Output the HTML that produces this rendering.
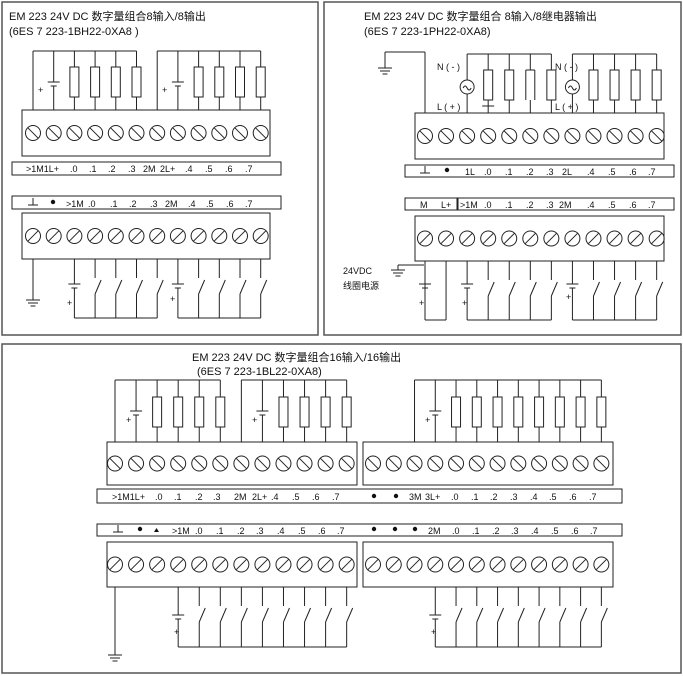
<!DOCTYPE html>
<html><head><meta charset="utf-8"><style>
html,body{margin:0;padding:0;background:#fff;width:683px;height:676px;overflow:hidden}
svg{display:block}
text{font-family:"Liberation Sans","Noto Sans CJK SC",sans-serif;fill:#111}
.s{font-size:9px}
.t{font-size:11px}
</style></head><body>
<svg id="g" width="683" height="676" viewBox="0 0 683 676" xmlns="http://www.w3.org/2000/svg">
<g fill="none" stroke="#555" stroke-width="1.5">
<rect x="2" y="2" width="316" height="333"/>
<rect x="324" y="2" width="357" height="333"/>
<rect x="2" y="344" width="679" height="329"/>
</g>
<g id="d" stroke="#222" stroke-width="1" fill="none"></g>
<!-- Panel 1 text -->
<text class="t" x="9" y="20">EM 223 24V DC  数字量组合8输入/8输出</text>
<text class="t" x="9" y="35">(6ES 7 223-1BH22-0XA8 )</text>
<text class="s" x="26" y="172">&gt;1M1L+</text>
<text class="s" x="70" y="172">.0</text><text class="s" x="89" y="172">.1</text><text class="s" x="108" y="172">.2</text><text class="s" x="128" y="172">.3</text>
<text class="s" x="143" y="172">2M</text><text class="s" x="160" y="172">2L+</text>
<text class="s" x="185" y="172">.4</text><text class="s" x="205" y="172">.5</text><text class="s" x="225" y="172">.6</text><text class="s" x="245" y="172">.7</text>
<text class="s" x="66" y="207">&gt;1M</text><text class="s" x="88" y="207">.0</text>
<text class="s" x="110" y="207">.1</text><text class="s" x="129" y="207">.2</text><text class="s" x="150" y="207">.3</text>
<text class="s" x="165" y="207">2M</text><text class="s" x="188" y="207">.4</text><text class="s" x="206" y="207">.5</text><text class="s" x="226" y="207">.6</text><text class="s" x="245" y="207">.7</text>
<!-- Panel 2 text -->
<text class="t" x="364" y="20">EM 223 24V DC 数字量组合 8输入/8继电器输出</text>
<text class="t" x="364" y="35">(6ES 7 223-1PH22-0XA8)</text>
<text class="s" x="437" y="70">N ( - )</text><text class="s" x="437" y="110">L ( + )</text>
<text class="s" x="555" y="70">N ( - )</text><text class="s" x="555" y="110">L ( + )</text>
<text class="s" x="465" y="175">1L</text><text class="s" x="484" y="175">.0</text><text class="s" x="505" y="175">.1</text><text class="s" x="526" y="175">.2</text><text class="s" x="546" y="175">.3</text>
<text class="s" x="562" y="175">2L</text><text class="s" x="587" y="175">.4</text><text class="s" x="608" y="175">.5</text><text class="s" x="629" y="175">.6</text><text class="s" x="648" y="175">.7</text>
<text class="s" x="420" y="208">M</text><text class="s" x="441" y="208">L+</text>
<text class="s" x="460" y="208">&gt;1M</text><text class="s" x="484" y="208">.0</text><text class="s" x="505" y="208">.1</text><text class="s" x="526" y="208">.2</text><text class="s" x="546" y="208">.3</text>
<text class="s" x="559" y="208">2M</text><text class="s" x="587" y="208">.4</text><text class="s" x="608" y="208">.5</text><text class="s" x="629" y="208">.6</text><text class="s" x="648" y="208">.7</text>
<text class="s" x="343" y="274">24VDC</text>
<text class="s" x="343" y="289">线圈电源</text>
<!-- Panel 3 text -->
<text class="t" x="192" y="361">EM 223 24V DC 数字量组合16输入/16输出</text>
<text class="t" x="197" y="375">(6ES 7 223-1BL22-0XA8)</text>
<text class="s" x="112" y="500">&gt;1M1L+</text>
<text class="s" x="155" y="500">.0</text><text class="s" x="174" y="500">.1</text><text class="s" x="195" y="500">.2</text><text class="s" x="213" y="500">.3</text>
<text class="s" x="234" y="500">2M</text><text class="s" x="252" y="500">2L+</text>
<text class="s" x="271" y="500">.4</text><text class="s" x="292" y="500">.5</text><text class="s" x="312" y="500">.6</text><text class="s" x="332" y="500">.7</text>
<text class="s" x="409" y="500">3M</text><text class="s" x="425" y="500">3L+</text>
<text class="s" x="451" y="500">.0</text><text class="s" x="471" y="500">.1</text><text class="s" x="490" y="500">.2</text><text class="s" x="510" y="500">.3</text>
<text class="s" x="530" y="500">.4</text><text class="s" x="549" y="500">.5</text><text class="s" x="569" y="500">.6</text><text class="s" x="589" y="500">.7</text>
<text class="s" x="172" y="534">&gt;1M</text><text class="s" x="195" y="534">.0</text><text class="s" x="216" y="534">.1</text><text class="s" x="237" y="534">.2</text><text class="s" x="256" y="534">.3</text>
<text class="s" x="277" y="534">.4</text><text class="s" x="298" y="534">.5</text><text class="s" x="318" y="534">.6</text><text class="s" x="337" y="534">.7</text>
<text class="s" x="428" y="534">2M</text>
<text class="s" x="452" y="534">.0</text><text class="s" x="472" y="534">.1</text><text class="s" x="492" y="534">.2</text><text class="s" x="511" y="534">.3</text>
<text class="s" x="531" y="534">.4</text><text class="s" x="551" y="534">.5</text><text class="s" x="571" y="534">.6</text><text class="s" x="590" y="534">.7</text>
<!-- plus signs -->
<text class="s" x="38" y="93">+</text><text class="s" x="162" y="93">+</text>
<text class="s" x="67" y="306">+</text><text class="s" x="170" y="302">+</text>
<text class="s" x="419" y="306">+</text><text class="s" x="462" y="306">+</text><text class="s" x="566" y="300">+</text>
<text class="s" x="126" y="423">+</text><text class="s" x="252" y="423">+</text><text class="s" x="425" y="423">+</text>
<text class="s" x="174" y="635">+</text><text class="s" x="431" y="635">+</text>
<text class="s" x="529" y="40" style="font-size:0">.</text>
</svg>
<script>
var d=document.getElementById('d');var NS='http://www.w3.org/2000/svg';
function el(t,a){var e=document.createElementNS(NS,t);for(var k in a)e.setAttribute(k,a[k]);d.appendChild(e);return e;}
function L(x1,y1,x2,y2){el('line',{x1:x1,y1:y1,x2:x2,y2:y2});}
function R(x,y,w,h){el('rect',{x:x,y:y,width:w,height:h});}
function dot(x,y){el('circle',{cx:x,cy:y,r:2.2,fill:'#111',stroke:'none'});}
function cs(x0,dx,n){var a=[];for(var i=0;i<n;i++)a.push(x0+i*dx);return a;}
function block(x0,y0,x1,y1,c,back){R(x0,y0,x1-x0,y1-y0);var cy=(y0+y1)/2;c.forEach(function(x){el('circle',{cx:x,cy:cy,r:7.5});if(back)L(x-5.3,cy-5.3,x+5.3,cy+5.3);else L(x-5.3,cy+5.3,x+5.3,cy-5.3);});}
function res(x,t,a,b,bt){L(x,t,x,a);R(x-4.5,a,9,b-a);L(x,b,x,bt);}
function batTop(x,t,by,bt){L(x,t,x,by);L(x-6,by,x+6,by);L(x-3,by+4,x+3,by+4);L(x,by+4,x,bt);}
function batBot(x,t,by,bt){L(x,t,x,by);L(x-6,by,x+6,by);L(x-3,by+4,x+3,by+4);L(x,by+4,x,bt);}
function sw(x,t,s1,s2,bt){L(x,t,x,s1);L(x,s2,x+6,s1+2);L(x,s2,x,bt);}
function gnd(x,y){L(x-7,y,x+7,y);L(x-5,y+3,x+5,y+3);L(x-2.5,y+6,x+2.5,y+6);}
function gsym(x,y){L(x,y-5,x,y+2);L(x-5,y+2,x+5,y+2);}
// Panel 1
var c1=cs(33,20.7,12);
block(22,110,270,156,c1,true);
L(c1[0],51,c1[5],51);L(c1[6],51,c1[11],51);
L(c1[0],51,c1[0],110);batTop(c1[1],51,82,110);
for(var i=2;i<6;i++)res(c1[i],51,67,97,110);
L(c1[6],51,c1[6],110);batTop(c1[7],51,82,110);
for(i=8;i<12;i++)res(c1[i],51,67,97,110);
R(12,162,269,13);R(12,196,269,13);gsym(33,203);dot(53,202);
block(22,213,270,259,c1,false);
L(c1[0],259,c1[0],300);gnd(c1[0],300);
batBot(c1[2],259,284,318);for(i=3;i<7;i++)sw(c1[i],259,278,294,318);L(c1[2],318,c1[6],318);
batBot(c1[7],259,284,318);for(i=8;i<12;i++)sw(c1[i],259,278,294,318);L(c1[7],318,c1[11],318);
// Panel 2
var c2=cs(425,21.06,12);
block(415,113,664,159,c2,true);
L(385,52,c2[0],52);L(c2[0],52,c2[0],113);L(385,52,385,68);gnd(385,68);
L(c2[2],54,c2[6],54);L(c2[7],54,c2[11],54);
function ac(x){L(x,54,x,80);el('circle',{cx:x,cy:87,r:7});el('path',{d:'M'+(x-4)+' 88 q2 -4 4 0 q2 4 4 0'});L(x,94,x,113);}
ac(c2[2]);res(c2[3],54,70,100,113);L(c2[3]-6,106,c2[3]+6,106);res(c2[4],54,70,100,113);
L(c2[5],54,c2[5],70);L(c2[5]-4.5,70,c2[5]+4.5,70);L(c2[5]-4.5,70,c2[5]-4.5,100);L(c2[5]+4.5,70,c2[5]+4.5,100);L(c2[5],100,c2[5],113);
res(c2[6],54,70,100,113);
ac(c2[7]);for(i=8;i<12;i++)res(c2[i],54,70,100,113);
R(405,165,269,12);gsym(c2[0],171);dot(447,170);
R(405,198,52,12);R(458,198,216,12);
block(415,216,664,261,c2,false);
L(c2[0],261,c2[0],320);L(c2[1],261,c2[1],320);L(c2[0],320,c2[1],320);
L(c2[0]-1,265,398,265);L(398,265,398,270);gnd(398,270);
batBot(c2[0],265,284,320);
batBot(c2[2],261,284,320);for(i=3;i<7;i++)sw(c2[i],261,280,296,320);L(c2[2],320,c2[6],320);
batBot(c2[7],261,284,320);for(i=8;i<12;i++)sw(c2[i],261,280,296,320);L(c2[7],320,c2[11],320);
// Panel 3
var a=cs(115,21.06,12),b=cs(373,20.76,12);
block(107,442,357,485,a,true);block(363,442,613,485,b,true);
L(a[0],380,a[5],380);L(a[6],380,a[11],380);
L(a[0],380,a[0],442);batTop(a[1],380,411,442);for(i=2;i<6;i++)res(a[i],380,397,427,442);
L(a[6],380,a[6],442);batTop(a[7],380,411,442);for(i=8;i<12;i++)res(a[i],380,397,427,442);
L(b[2],380,b[11],380);L(b[2],380,b[2],442);batTop(b[3],380,411,442);for(i=4;i<12;i++)res(b[i],380,397,427,442);
R(97,489,525,14);dot(374,496);dot(396,496);
R(97,524,525,12);gsym(118,530);dot(140,529);el('path',{d:'M154 532 l2.5 -4 l2.5 4z',fill:'#111',stroke:'none'});
dot(374,529);dot(395,529);dot(415,529);
block(107,542,357,587,a,false);block(363,542,613,587,b,false);
L(a[0],587,a[0],655);gnd(a[0],655);
batBot(a[3],587,615,647);for(i=4;i<12;i++)sw(a[i],587,606,622,647);L(a[3],647,a[11],647);
batBot(b[3],587,615,647);for(i=4;i<12;i++)sw(b[i],587,606,622,647);L(b[3],647,b[11],647);
</script>
</body></html>
